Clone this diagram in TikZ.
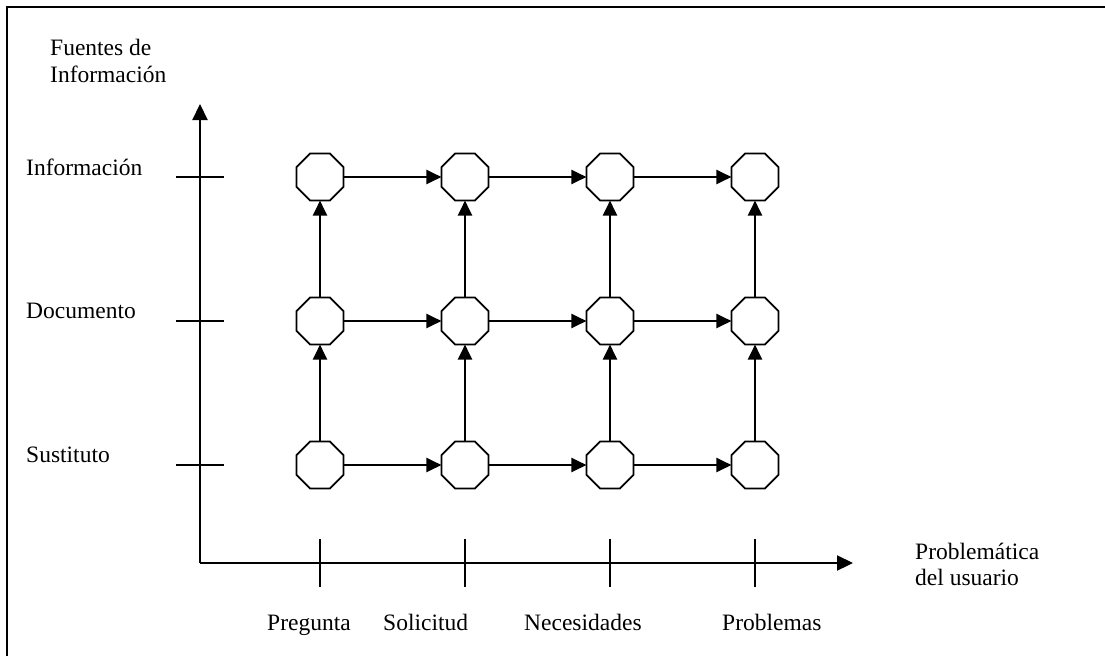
\documentclass[tikz,border=0pt]{standalone}
\usepackage{fontspec}
\setmainfont{Liberation Serif}
\usetikzlibrary{shapes.geometric,arrows.meta}
\begin{document}
\begin{tikzpicture}[x=1pt,y=-1pt,
  oct/.style={draw,line width=1.8pt,regular polygon,regular polygon sides=8,
    minimum size=51pt,inner sep=0pt,outer sep=0pt,fill=white},
  link/.style={line width=2.2pt,-{Triangle[length=15pt,width=14pt]}},
  axis/.style={line width=2.2pt,-{Triangle[length=16pt,width=15pt]}},
  tick/.style={line width=1.6pt},
  lbl/.style={anchor=base west,inner sep=0pt,font=\fontsize{23.5}{27}\selectfont}]
\useasboundingbox (0,0) rectangle (1105,656);
% frame
\draw[line width=2.2pt] (7,656) -- (7,7) -- (1105,7);
% axes
\coordinate (O) at (200,563);
\coordinate (ytip) at (200,104);
\coordinate (xtip) at (853,563);
\draw[axis] (O) -- (ytip);
\draw[axis] (O) -- (xtip);
% ticks
\foreach \yy in {177,321,465} \draw[tick] (176,\yy) -- (224,\yy);
\foreach \xx in {320,465,610,755} \draw[tick] (\xx,539) -- (\xx,587);
% octagons
\foreach \c/\xx in {1/320,2/465,3/610,4/755}
  \foreach \r/\yy in {1/177,2/321,3/465}
    \node[oct] (n\r\c) at (\xx,\yy) {};
% horizontal links
\foreach \r in {1,2,3}{
  \draw[link] (n\r1) -- (n\r2);
  \draw[link] (n\r2) -- (n\r3);
  \draw[link] (n\r3) -- (n\r4);
}
% vertical links
\foreach \c in {1,2,3,4}{
  \draw[link] (n3\c) -- (n2\c);
  \draw[link] (n2\c) -- (n1\c);
}
% labels
\node[lbl] (f1) at (50,55) {Fuentes de};
\node[lbl] (f2) at (50,82) {Información};
\node[lbl] (li) at (26,175) {Información};
\node[lbl] (ld) at (26,318) {Documento};
\node[lbl] (ls) at (26,462) {Sustituto};
\node[lbl] (p1) at (915,559) {Problemática};
\node[lbl] (p2) at (915,585) {del usuario};
\node[lbl] (b1) at (267,630) {Pregunta};
\node[lbl] (b2) at (383,630) {Solicitud};
\node[lbl] (b3) at (524,630) {Necesidades};
\node[lbl] (b4) at (722,630) {Problemas};
\end{tikzpicture}
\end{document}
